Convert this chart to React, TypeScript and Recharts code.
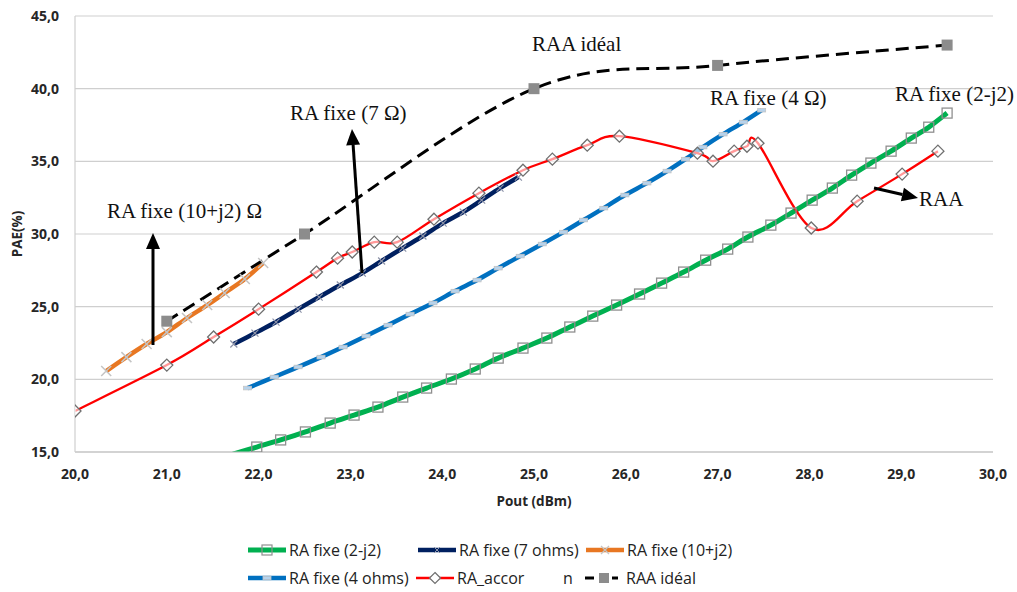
import { LineChart, Line, XAxis, YAxis, CartesianGrid } from "recharts";

// RA fixe (2-j2)
const green_x = [21.72, 21.98, 22.24, 22.51, 22.78, 23.04, 23.3, 23.57, 23.83, 24.1, 24.36, 24.61, 24.88, 25.14, 25.39, 25.64, 25.9, 26.15, 26.39, 26.63, 26.87, 27.11, 27.33, 27.58, 27.8, 28.03, 28.25, 28.46, 28.67, 28.89, 29.11, 29.3, 29.5];
const green_y = [14.85, 15.34, 15.83, 16.38, 16.99, 17.54, 18.09, 18.78, 19.4, 20.02, 20.71, 21.46, 22.15, 22.84, 23.6, 24.35, 25.11, 25.87, 26.62, 27.38, 28.2, 28.96, 29.79, 30.61, 31.44, 32.33, 33.16, 34.05, 34.88, 35.7, 36.6, 37.35, 38.32];

// RA fixe (7 ohms)
const navy_x = [21.73, 21.96, 22.19, 22.43, 22.66, 22.89, 23.13, 23.34, 23.57, 23.79, 24.01, 24.23, 24.43, 24.63, 24.83];
const navy_y = [22.43, 23.18, 23.94, 24.83, 25.66, 26.49, 27.31, 28.14, 29.03, 29.86, 30.75, 31.51, 32.33, 33.16, 33.91];

// RA fixe (10+j2)
const orange_x = [20.34, 20.56, 20.78, 21.0, 21.22, 21.44, 21.63, 21.85, 22.05];
const orange_y = [20.57, 21.53, 22.43, 23.25, 24.22, 25.11, 25.94, 26.9, 28.0];

// RA fixe (4 ohms)
const blue_x = [21.88, 22.17, 22.43, 22.68, 22.92, 23.17, 23.41, 23.65, 23.9, 24.14, 24.38, 24.61, 24.85, 25.09, 25.32, 25.54, 25.76, 25.99, 26.23, 26.45, 26.65, 26.84, 27.06, 27.28, 27.48];
const blue_y = [19.4, 20.16, 20.85, 21.53, 22.22, 22.98, 23.73, 24.49, 25.25, 26.07, 26.83, 27.65, 28.48, 29.31, 30.13, 30.96, 31.78, 32.68, 33.5, 34.33, 35.15, 35.98, 36.87, 37.7, 38.52];

// RA_accord (RAA)
const red_x = [20.0, 21.0, 21.51, 22.0, 22.63, 22.86, 23.02, 23.26, 23.51, 23.91, 24.4, 24.88, 25.2, 25.58, 25.93, 26.78, 26.95, 27.18, 27.32, 27.44, 28.02, 28.52, 29.01, 29.4];
const red_y = [17.82, 20.98, 22.91, 24.83, 27.38, 28.34, 28.76, 29.44, 29.44, 31.02, 32.81, 34.39, 35.15, 36.11, 36.73, 35.56, 35.01, 35.7, 36.04, 36.25, 30.41, 32.26, 34.12, 35.7];

// RAA idéal
const ideal_x = [21.0, 22.5, 25.0, 27.0, 29.5];
const ideal_y = [24.0, 30.0, 40.0, 41.6, 43.0];

const xTicks = [20, 21, 22, 23, 24, 25, 26, 27, 28, 29, 30];
const yTicks = [15, 20, 25, 30, 35, 40, 45];

const pts = (xs: number[], ys: number[]) => xs.map((x, i) => ({ x, y: ys[i] }));

const fmt = (v: number) => v.toFixed(1).replace(".", ",");

// excel-like smoothed line (catmull-rom style bezier)
function excelCurve(context: any) {
  let p: number[][] = [];
  return {
    areaStart() {},
    areaEnd() {},
    lineStart() {
      p = [];
    },
    point(x: number, y: number) {
      p.push([+x, +y]);
    },
    lineEnd() {
      const n = p.length;
      if (!n) return;
      context.moveTo(p[0][0], p[0][1]);
      for (let i = 0; i < n - 1; i++) {
        const p0 = p[Math.max(i - 1, 0)];
        const p1 = p[i];
        const p2 = p[i + 1];
        const p3 = p[Math.min(i + 2, n - 1)];
        context.bezierCurveTo(
          p1[0] + (p2[0] - p0[0]) / 6,
          p1[1] + (p2[1] - p0[1]) / 6,
          p2[0] - (p3[0] - p1[0]) / 6,
          p2[1] - (p3[1] - p1[1]) / 6,
          p2[0],
          p2[1]
        );
      }
    },
  };
}

const marker = (kind: string) => (props: any) => {
  const { cx, cy, index, payload } = props;
  const key = `${kind}-${index}`;
  if (cx == null || cy == null || payload.y < 15) return <g key={key} />;
  switch (kind) {
    case "square":
      return <rect key={key} x={cx - 5} y={cy - 5} width={10} height={10} fill="none" stroke="#8f8f8f" strokeWidth={1.3} />;
    case "xsmall":
      return <path key={key} d={`M${cx - 3.5},${cy - 3.5}L${cx + 3.5},${cy + 3.5}M${cx - 3.5},${cy + 3.5}L${cx + 3.5},${cy - 3.5}`} stroke="#8d93a8" strokeWidth={1.2} />;
    case "star":
      return <path key={key} d={`M${cx - 5},${cy - 5}L${cx + 5},${cy + 5}M${cx - 5},${cy + 5}L${cx + 5},${cy - 5}`} stroke="#c4c4c4" strokeWidth={1.5} />;
    case "dash":
      return <rect key={key} x={cx - 4} y={cy - 1.8} width={8} height={3.6} fill="#b7d3ec" stroke="#c4c4c4" strokeWidth={0.8} />;
    case "diamond":
      return <path key={key} d={`M${cx},${cy - 6}L${cx + 6},${cy}L${cx},${cy + 6}L${cx - 6},${cy}Z`} fill="rgba(255,255,255,0.6)" stroke="#6f6f6f" strokeWidth={1.3} />;
    default:
      return <rect key={key} x={cx - 5.5} y={cy - 5.5} width={11} height={11} fill="#8c8c8c" />;
  }
};

function Arrow({ x1, y1, x2, y2 }: { x1: number; y1: number; x2: number; y2: number }) {
  const len = Math.hypot(x2 - x1, y2 - y1);
  const ux = (x2 - x1) / len;
  const uy = (y2 - y1) / len;
  const hl = 16;
  const hw = 7;
  const bx = x2 - ux * hl;
  const by = y2 - uy * hl;
  return (
    <g>
      <line x1={x1} y1={y1} x2={bx} y2={by} stroke="#000" strokeWidth={3} />
      <polygon points={`${x2},${y2} ${bx - uy * hw},${by + ux * hw} ${bx + uy * hw},${by - ux * hw}`} fill="#000" />
    </g>
  );
}

function LegendIcon({ kind, color, width, dashed }: { kind: string; color: string; width: number; dashed?: boolean }) {
  const h = 14;
  const cy = h / 2;
  const w = 38;
  const m = w / 2;
  let mk: any = null;
  if (kind === "square") mk = <rect x={m - 5} y={cy - 5} width={10} height={10} fill="none" stroke="#8f8f8f" strokeWidth={1.2} />;
  if (kind === "xsmall") mk = <path d={`M${m - 3},${cy - 3}L${m + 3},${cy + 3}M${m - 3},${cy + 3}L${m + 3},${cy - 3}`} stroke="#8d93a8" strokeWidth={1} />;
  if (kind === "star") mk = <path d={`M${m - 4},${cy - 4}L${m + 4},${cy + 4}M${m - 4},${cy + 4}L${m + 4},${cy - 4}`} stroke="#c4c4c4" strokeWidth={1.3} />;
  if (kind === "dash") mk = <rect x={m - 4} y={cy - 1.8} width={8} height={3.6} fill="#b7d3ec" stroke="#c4c4c4" strokeWidth={0.8} />;
  if (kind === "diamond") mk = <path d={`M${m},${cy - 5.5}L${m + 5.5},${cy}L${m},${cy + 5.5}L${m - 5.5},${cy}Z`} fill="#fff" stroke="#6f6f6f" strokeWidth={1.2} />;
  if (kind === "filled") mk = <rect x={m - 5} y={cy - 5} width={10} height={10} fill="#8c8c8c" />;
  return (
    <svg width={w} height={h} style={{ display: "block" }}>
      {dashed ? (
        <g>
          <line x1={0} y1={cy} x2={9} y2={cy} stroke={color} strokeWidth={width} />
          <line x1={27} y1={cy} x2={33} y2={cy} stroke={color} strokeWidth={width} />
        </g>
      ) : (
        <line x1={0} y1={cy} x2={w} y2={cy} stroke={color} strokeWidth={width} strokeLinecap="round" />
      )}
      {mk}
    </svg>
  );
}

const legendItems = [
  { left: 248, top: 550, kind: "square", color: "#00b050", width: 5, label: "RA fixe (2-j2)" },
  { left: 418, top: 550, kind: "xsmall", color: "#002060", width: 4.5, label: "RA fixe (7 ohms)" },
  { left: 586, top: 550, kind: "star", color: "#e87722", width: 4.5, label: "RA fixe (10+j2)" },
  { left: 248, top: 578, kind: "dash", color: "#0070c0", width: 4.5, label: "RA fixe (4 ohms)" },
  { left: 416, top: 578, kind: "diamond", color: "#ff0000", width: 2.5, label: "RA_accor" },
  { left: 585, top: 578, kind: "filled", color: "#000", width: 3, label: "RAA idéal", dashed: true },
];

const serif = { fontFamily: '"Liberation Serif", "Times New Roman", serif', fontSize: 21, fill: "#111" };

export default function App() {
  const axisTick = { fontSize: 14, fontWeight: 700, fill: "#262626", fontFamily: '"Open Sans", sans-serif' };
  return (
    <div style={{ position: "absolute", left: 0, top: 0, width: 1017, height: 592, background: "#fff", fontFamily: '"Open Sans", sans-serif' }}>
      <LineChart width={1017} height={592} margin={{ top: 16, right: 24, left: 0, bottom: 86 }}>
        <CartesianGrid vertical={false} stroke="#cfcfcf" strokeWidth={1.2} />
        <XAxis
          type="number"
          dataKey="x"
          domain={[20, 30]}
          ticks={xTicks}
          allowDataOverflow
          tickFormatter={fmt}
          tickLine={false}
          tickSize={0}
          tickMargin={17}
          height={54}
          axisLine={{ stroke: "#bfbfbf", strokeWidth: 1.2 }}
          tick={axisTick}
          label={{ value: "Pout (dBm)", position: "insideBottom", offset: 0, style: { fontSize: 13.5, fontWeight: 700, fill: "#262626" } }}
        />
        <YAxis
          type="number"
          dataKey="y"
          domain={[15, 45]}
          ticks={yTicks}
          allowDataOverflow
          tickFormatter={fmt}
          tickLine={false}
          tickSize={0}
          tickMargin={16}
          width={75}
          axisLine={{ stroke: "#cfcfcf", strokeWidth: 1.2 }}
          tick={axisTick}
          label={{ value: "PAE(%)", angle: -90, position: "insideLeft", offset: 17, style: { textAnchor: "middle", fontSize: 13.5, fontWeight: 700, fill: "#262626" } }}
        />
        <Line data={pts(green_x, green_y)} dataKey="y" type={excelCurve as any} stroke="#00b050" strokeWidth={5} dot={marker("square")} activeDot={false} isAnimationActive={false} />
        <Line data={pts(navy_x, navy_y)} dataKey="y" type={excelCurve as any} stroke="#002060" strokeWidth={4.5} dot={marker("xsmall")} activeDot={false} isAnimationActive={false} />
        <Line data={pts(orange_x, orange_y)} dataKey="y" type={excelCurve as any} stroke="#e87722" strokeWidth={4.5} dot={marker("star")} activeDot={false} isAnimationActive={false} />
        <Line data={pts(blue_x, blue_y)} dataKey="y" type={excelCurve as any} stroke="#0070c0" strokeWidth={4.5} dot={marker("dash")} activeDot={false} isAnimationActive={false} />
        <Line data={pts(red_x, red_y)} dataKey="y" type={excelCurve as any} stroke="#ff0000" strokeWidth={2.3} dot={marker("diamond")} activeDot={false} isAnimationActive={false} />
        <Line data={pts(ideal_x, ideal_y)} dataKey="y" type={excelCurve as any} stroke="#000" strokeWidth={3} strokeDasharray="13 7" dot={marker("filled")} activeDot={false} isAnimationActive={false} />
      </LineChart>

      <svg width={1017} height={592} style={{ position: "absolute", left: 0, top: 0, pointerEvents: "none" }}>
        <text x={532} y={51} {...serif}>RAA idéal</text>
        <text x={290} y={120} {...serif}>RA fixe (7 Ω)</text>
        <text x={107} y={218} {...serif}>RA fixe (10+j2) Ω</text>
        <text x={710} y={105} {...serif}>RA fixe (4 Ω)</text>
        <text x={895} y={101} {...serif}>RA fixe (2-j2)</text>
        <text x={919} y={206} {...serif}>RAA</text>
        <Arrow x1={153} y1={345} x2={153} y2={233} />
        <Arrow x1={362} y1={273} x2={352} y2={129} />
        <Arrow x1={874} y1={188} x2={918} y2={198} />
      </svg>

      {legendItems.map((it) => (
        <div key={it.label} style={{ position: "absolute", left: it.left, top: it.top - 11, height: 22, display: "flex", alignItems: "center", gap: 3, fontSize: 16, color: "#222", whiteSpace: "nowrap" }}>
          <LegendIcon kind={it.kind} color={it.color} width={it.width} dashed={it.dashed} />
          <span>{it.label}</span>
        </div>
      ))}
      <div style={{ position: "absolute", left: 563, top: 567, fontSize: 16, color: "#222" }}>n</div>
    </div>
  );
}
